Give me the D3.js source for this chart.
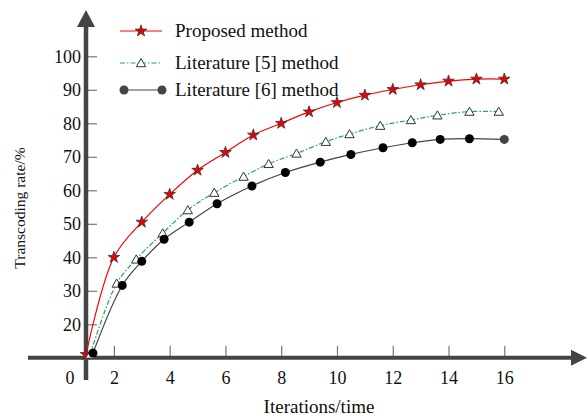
<!DOCTYPE html>
<html>
<head>
<meta charset="utf-8">
<script src="https://cdn.jsdelivr.net/npm/d3@7"></script>
<style>
body { margin: 0; background: #fff; }
text { font-family: "Liberation Serif", "Times New Roman", serif; fill: #111; }
</style>
</head>
<body>
<script>
var width = 587;
var height = 417;

// data
var proposedX = [1, 2, 3, 4, 5, 6, 7, 8, 9, 10, 11, 12, 13, 14, 15, 16];
var proposedY = [11, 40, 50.5, 58.8, 66, 71.3, 76.5, 80, 83.4, 86.2, 88.4, 90.1, 91.5, 92.6, 93.2, 93.2];
var lit5X = [1.15, 2.1, 2.8, 3.75, 4.65, 5.6, 6.65, 7.55, 8.55, 9.6, 10.45, 11.55, 12.65, 13.6, 14.75, 15.8];
var lit5Y = [11, 32.2, 39.4, 47.2, 54.1, 59.3, 64.1, 67.9, 71, 74.5, 76.8, 79.3, 81, 82.4, 83.5, 83.5];
var lit6X = [1.25, 2.3, 3.0, 3.8, 4.7, 5.7, 6.95, 8.15, 9.4, 10.5, 11.65, 12.7, 13.7, 14.75, 16.0];
var lit6Y = [11.4, 31.6, 38.8, 45.4, 50.5, 56, 61.3, 65.3, 68.4, 70.7, 72.7, 74.2, 75.2, 75.4, 75.2];
var xTicks = [2, 4, 6, 8, 10, 12, 14, 16];
var yTicks = [20, 30, 40, 50, 60, 70, 80, 90, 100];
var seriesNames = ["Proposed method", "Literature [5] method", "Literature [6] method"];

var svg = d3.select("body")
    .append("svg")
    .attr("width", width)
    .attr("height", height);

var x = d3.scaleLinear().domain([1, 16]).range([86, 504.3]);
var y = d3.scaleLinear().domain([10, 100]).range([357.8, 56.3]);

var axisColor = "#444";
var serif = "'Liberation Serif', 'Times New Roman', serif";

// tick marks pointing inward
svg.append("g")
    .attr("transform", "translate(" + x(1) + ",0)")
    .call(d3.axisRight(y).tickValues(yTicks).tickSize(11).tickFormat(""))
    .call(function(g) { g.select(".domain").remove(); })
    .call(function(g) { g.selectAll("line").attr("stroke", "#777").attr("stroke-width", 1.2); });

svg.append("g")
    .attr("transform", "translate(0," + y(10) + ")")
    .call(d3.axisTop(x).tickValues(xTicks).tickSize(12).tickFormat(""))
    .call(function(g) { g.select(".domain").remove(); })
    .call(function(g) { g.selectAll("line").attr("stroke", "#777").attr("stroke-width", 1.2); });

// tick labels
svg.append("g")
    .attr("transform", "translate(" + (x(1) - 5) + ",0)")
    .call(d3.axisLeft(y).tickValues(yTicks).tickSize(0).tickPadding(0))
    .attr("font-family", null)
    .call(function(g) { g.select(".domain").remove(); })
    .call(function(g) {
        g.selectAll("text")
            .style("font-family", serif)
            .style("font-size", "18px")
            .attr("fill", "#111")
            .attr("dy", "0.32em");
    });

svg.append("g")
    .attr("transform", "translate(0," + (y(10) + 20) + ")")
    .call(d3.axisBottom(x).tickValues(xTicks).tickSize(0).tickPadding(0))
    .attr("font-family", null)
    .call(function(g) { g.select(".domain").remove(); })
    .call(function(g) {
        g.selectAll("text")
            .style("font-family", serif)
            .style("font-size", "18px")
            .attr("fill", "#111")
            .attr("dy", "0.32em");
    });

svg.append("text")
    .attr("x", x(1) - 16)
    .attr("y", y(10) + 20)
    .attr("dy", "0.32em")
    .attr("text-anchor", "middle")
    .style("font-size", "18px")
    .text("0");

// axis lines with arrows
svg.append("line")
    .attr("x1", 28).attr("x2", 575)
    .attr("y1", y(10)).attr("y2", y(10))
    .attr("stroke", axisColor).attr("stroke-width", 4);
svg.append("path")
    .attr("d", "M587," + y(10) + "L571," + (y(10) - 8) + "L571," + (y(10) + 8) + "Z")
    .attr("fill", axisColor);

svg.append("line")
    .attr("x1", x(1)).attr("x2", x(1))
    .attr("y1", 380).attr("y2", 22)
    .attr("stroke", axisColor).attr("stroke-width", 4.5);
svg.append("path")
    .attr("d", "M" + x(1) + ",10L" + (x(1) - 9) + ",27L" + (x(1) + 9) + ",27Z")
    .attr("fill", axisColor);

// axis titles
svg.append("text")
    .attr("x", 319)
    .attr("y", 413)
    .attr("text-anchor", "middle")
    .style("font-size", "19px")
    .text("Iterations/time");

svg.append("text")
    .attr("transform", "translate(25,208) rotate(-90)")
    .attr("text-anchor", "middle")
    .style("font-size", "15.5px")
    .text("Transcoding rate/%");

// series
var series = [
    { name: seriesNames[0], xs: proposedX, ys: proposedY, color: "#f00", dash: null, marker: "star" },
    { name: seriesNames[1], xs: lit5X, ys: lit5Y, color: "#1dab4c", dash: "5,2,1.5,2", marker: "triangle" },
    { name: seriesNames[2], xs: lit6X, ys: lit6Y, color: "#444", dash: null, marker: "dot" }
];

var line = d3.line()
    .x(function(d) { return x(d[0]); })
    .y(function(d) { return y(d[1]); })
    .curve(d3.curveCatmullRom.alpha(0.5));

var star = d3.symbol().type(d3.symbolStar).size(42);
var tri = d3.symbol().type(d3.symbolTriangle).size(38);

function drawMarker(g, kind, cx, cy, last) {
    if (kind === "star") {
        g.append("path").attr("d", star)
            .attr("transform", "translate(" + cx + "," + cy + ")")
            .attr("fill", "#e00").attr("stroke", "#333").attr("stroke-width", 0.8);
    } else if (kind === "triangle") {
        g.append("path").attr("d", tri)
            .attr("transform", "translate(" + cx + "," + (cy + 1) + ")")
            .attr("fill", "#fff").attr("stroke", "#333").attr("stroke-width", 1);
    } else {
        g.append("circle")
            .attr("cx", cx).attr("cy", cy).attr("r", 4.5)
            .attr("fill", last ? "#444" : "#000");
    }
}

series.forEach(function(s) {
    var pts = s.xs.map(function(v, i) { return [v, s.ys[i]]; });
    var g = svg.append("g");
    g.append("path")
        .datum(pts)
        .attr("d", line)
        .attr("fill", "none")
        .attr("stroke", s.color)
        .attr("stroke-width", 1.2)
        .attr("stroke-dasharray", s.dash);
    pts.forEach(function(p, i) {
        drawMarker(g, s.marker, x(p[0]), y(p[1]), s.marker === "dot" && i === pts.length - 1);
    });
});

// legend
var legendY = [31, 63, 90];
series.forEach(function(s, i) {
    var g = svg.append("g");
    g.append("line")
        .attr("x1", 120).attr("x2", 162)
        .attr("y1", legendY[i]).attr("y2", legendY[i])
        .attr("stroke", s.color)
        .attr("stroke-width", 1.2)
        .attr("stroke-dasharray", s.dash);
    if (s.marker === "dot") {
        drawMarker(g, "dot", 124, legendY[i], true);
        drawMarker(g, "dot", 162, legendY[i], true);
    } else {
        drawMarker(g, s.marker, 141, legendY[i], false);
    }
    g.append("text")
        .attr("x", 175)
        .attr("y", legendY[i] + 6)
        .style("font-size", "19px")
        .text(s.name);
});
</script>
</body>
</html>
